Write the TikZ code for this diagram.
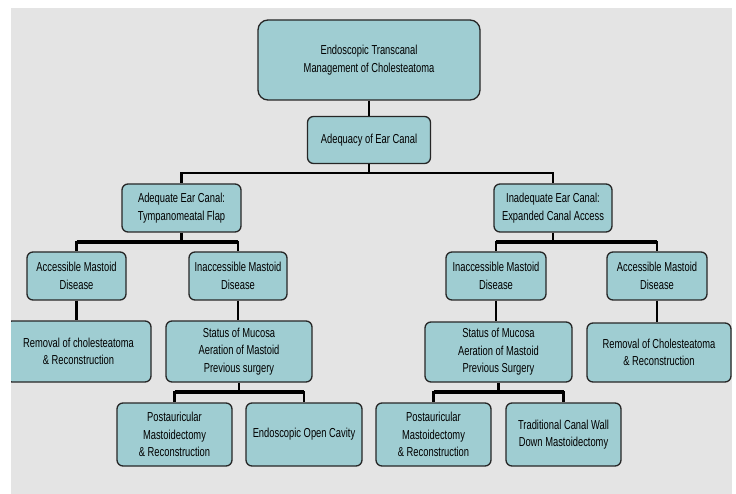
\documentclass[tikz,border=0pt]{standalone}
\usepackage{fontspec}
\setmainfont{Liberation Sans}[FakeStretch=0.72]
\usepackage{tikz}
\definecolor{boxteal}{HTML}{9FCDD2}
\definecolor{bggrey}{HTML}{E4E4E4}

\begin{document}
\begin{tikzpicture}[
  x=1pt, y=-1pt,
  every node/.style={font=\fontsize{13}{17.5}\selectfont, align=center},
  box/.style 2 args={draw=black!85, line width=1.3pt, fill=boxteal,
    rounded corners=6pt, inner sep=0pt, minimum width=#1, minimum height=#2},
  link/.style={draw, line width=2.6pt},
  bar/.style={draw, line width=3.6pt}
]
\useasboundingbox (0,0) rectangle (736,494);
\fill[bggrey] (11,8) rectangle (732,494);

\begin{scope}
\clip (11,8) rectangle (732,494);

% top of the tree
\node[box={222pt}{80pt}, rounded corners=10pt] (root) at (369,60)
  {Endoscopic Transcanal\\Management of Cholesteatoma};
\node[box={123pt}{47pt}] (canal) at (369,140) {Adequacy of Ear Canal};

% canal access
\node[box={119pt}{48pt}] (adequate) at (181.5,208)
  {Adequate Ear Canal:\\Tympanomeatal Flap};
\node[box={118pt}{48pt}] (inadequate) at (553,208)
  {Inadequate Ear Canal:\\Expanded Canal Access};

% mastoid disease
\node[box={99pt}{48pt}] (accL) at (76.5,276) {Accessible Mastoid\\Disease};
\node[box={98pt}{48pt}] (inaccL) at (238,276) {Inaccessible Mastoid\\Disease};
\node[box={100pt}{48pt}] (inaccR) at (496,276) {Inaccessible Mastoid\\Disease};
\node[box={100pt}{48pt}] (accR) at (657,276) {Accessible Mastoid\\Disease};

% third row
\node[box={145pt}{61pt}] (removalL) at (78.5,351.5)
  {Removal of cholesteatoma\\\& Reconstruction};
\node[box={146pt}{61pt}] (statusL) at (239,351.5)
  {Status of Mucosa\\Aeration of Mastoid\\Previous surgery};
\node[box={147pt}{60pt}] (statusR) at (498.5,352)
  {Status of Mucosa\\Aeration of Mastoid\\Previous Surgery};
\node[box={144pt}{59pt}] (removalR) at (659,352.5)
  {Removal of Cholesteatoma\\\& Reconstruction};

% surgery
\node[box={115pt}{63pt}] (postL) at (174.5,434.5)
  {Postauricular\\Mastoidectomy\\\& Reconstruction};
\node[box={116pt}{63pt}] (openL) at (304,434.5) {Endoscopic Open Cavity};
\node[box={115pt}{63pt}] (postR) at (433.5,434.5)
  {Postauricular\\Mastoidectomy\\\& Reconstruction};
\node[box={115pt}{63pt}] (wallR) at (563.5,434.5)
  {Traditional Canal Wall\\Down Mastoidectomy};

% bars
\coordinate (jTop) at (369,173);
\coordinate (jL) at (181.5,242);
\coordinate (jR) at (553,242);
\coordinate (jSL) at (239,392);
\coordinate (jSR) at (498.5,392);

\path[link] (root.south) -- (canal.north);
\path[link] (canal.south) -- (jTop);
\path[link] (jTop) -| (adequate.north);
\path[link] (jTop) -| (inadequate.north);

\path[link] (adequate.south) -- (jL);
\path[bar] (accL.north |- jL) -- (inaccL.north |- jL);
\path[link] (jL) -| (accL.north);
\path[link] (jL) -| (inaccL.north);
\path[link] (inadequate.south) -- (jR);
\path[bar] (inaccR.north |- jR) -- (accR.north |- jR);
\path[link] (jR) -| (inaccR.north);
\path[link] (jR) -| (accR.north);

\path[link] (accL.south) -- (removalL.north -| accL.south);
\path[link] (inaccL.south) -- (statusL.north -| inaccL.south);
\path[link] (inaccR.south) -- (statusR.north -| inaccR.south);
\path[link] (accR.south) -- (removalR.north -| accR.south);

\path[link] (statusL.south) -- (jSL);
\path[bar] (postL.north |- jSL) -- (openL.north |- jSL);
\path[link] (jSL) -| (postL.north);
\path[link] (jSL) -| (openL.north);
\path[link] (statusR.south) -- (jSR);
\path[bar] (postR.north |- jSR) -- (wallR.north |- jSR);
\path[link] (jSR) -| (postR.north);
\path[link] (jSR) -| (wallR.north);
\end{scope}
\end{tikzpicture}
\end{document}
